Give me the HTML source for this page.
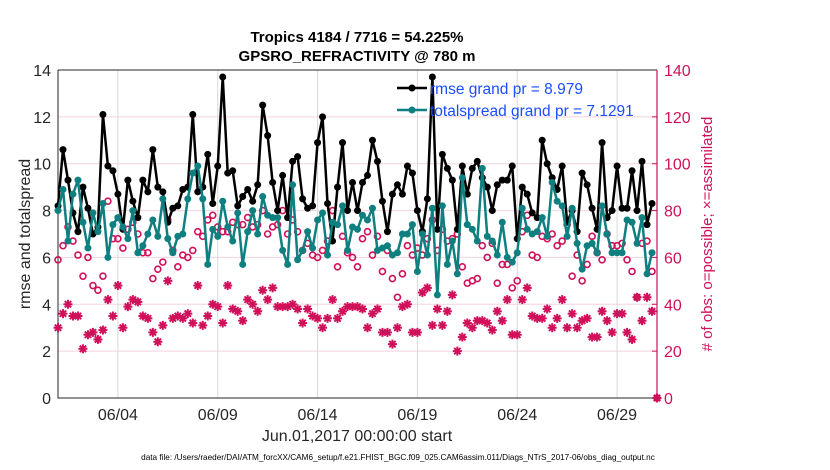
<!DOCTYPE html>
<html><head><meta charset="utf-8"><style>
body{margin:0;background:#fff;}
svg{display:block;font-family:"Liberation Sans",sans-serif;}
</style></head><body>
<svg id="chart" width="830" height="470" viewBox="0 0 830 470" xmlns="http://www.w3.org/2000/svg">
<rect width="830" height="470" fill="#fff"/>
<text x="357" y="42" text-anchor="middle" font-size="15" font-weight="bold" fill="#000">Tropics 4184 / 7716 = 54.225%</text>
<text x="357" y="61" text-anchor="middle" font-size="15" font-weight="bold" fill="#000">GPSRO_REFRACTIVITY @ 780 m</text>
<g id="grid"></g>
<g id="axes"></g>
<g id="marks"></g>
<text transform="translate(30,234) rotate(-90)" text-anchor="middle" font-size="16" fill="#262626">rmse and totalspread</text>
<text transform="translate(712,234) rotate(-90)" text-anchor="middle" font-size="15" fill="#d0105a">#  of obs: o=possible; ×=assimilated</text>
<text x="357" y="441" text-anchor="middle" font-size="16" fill="#262626">Jun.01,2017 00:00:00 start</text>
<text x="398" y="460" text-anchor="middle" font-size="8.2" fill="#000">data file: /Users/raeder/DAI/ATM_forcXX/CAM6_setup/f.e21.FHIST_BGC.f09_025.CAM6assim.011/Diags_NTrS_2017-06/obs_diag_output.nc</text>
<g id="legend">
<line x1="397" y1="88" x2="427" y2="88" stroke="#000" stroke-width="2.5"/><circle cx="412" cy="88" r="3.5" fill="#000"/>
<text x="430" y="94" font-size="15.5" fill="#1a4dff">rmse grand pr = 8.979</text>
<line x1="397" y1="110" x2="427" y2="110" stroke="#0f7f80" stroke-width="2.5"/><circle cx="412" cy="110" r="3.5" fill="#0f7f80"/>
<text x="430" y="116" font-size="15.5" fill="#1a4dff">totalspread grand pr = 7.1291</text>
</g>
</svg>
<script>
const rmse=[8.2,10.6,9.3,7.9,7.1,9.0,8.1,7.0,7.3,12.1,9.9,9.7,8.7,7.2,9.3,8.4,7.7,9.3,8.8,10.6,9.0,8.8,7.5,8.1,8.2,8.9,9.0,12.1,8.8,9.0,
10.4,8.3,9.9,13.7,9.6,9.7,8.2,8.6,8.9,8.4,9.1,12.5,11.2,9.2,8.0,9.5,7.7,10.1,10.3,8.5,8.1,8.2,10.9,12.0,8.3,6.7,9.0,10.9,8.0,9.2,
8.0,9.2,9.5,11.0,10.1,8.4,7.1,8.7,9.1,8.7,9.9,9.6,8.0,7.1,8.5,13.7,7.2,10.4,9.8,9.3,7.2,9.9,8.7,9.8,10.1,9.4,9.0,8.0,9.1,9.3,
9.3,9.9,6.8,9.0,8.7,7.9,7.7,11.0,10.0,9.4,8.9,9.9,7.5,8.0,7.1,9.6,9.1,8.1,7.2,10.9,7.7,8.0,9.9,8.1,8.1,9.7,8.0,10.1,7.4,8.3];
const spread=[8.0,8.9,6.7,8.7,9.3,7.5,6.4,7.9,7.1,8.3,6.0,7.4,7.7,7.3,6.8,8.0,6.2,6.5,7.0,7.6,6.9,8.5,6.8,6.2,6.9,7.0,8.5,9.6,9.9,8.5,
5.7,7.2,6.9,8.4,7.3,6.7,7.9,5.7,7.1,8.0,7.0,8.6,7.8,7.7,7.7,6.3,5.7,9.1,5.9,6.3,7.1,6.4,7.6,7.9,6.1,7.5,7.4,8.2,6.3,7.3,
7.2,7.8,7.6,8.1,6.3,6.4,6.5,6.1,6.2,7.0,7.0,7.4,5.4,7.0,6.1,8.1,4.4,8.2,5.7,6.7,5.3,9.4,7.4,7.2,6.7,9.8,6.9,6.7,6.1,7.5,
6.0,5.8,6.2,8.1,7.2,7.0,7.1,7.7,6.9,9.2,8.4,8.2,6.9,8.1,6.6,5.5,6.5,6.6,6.2,8.2,7.0,6.2,6.2,6.2,7.6,7.5,6.6,7.7,5.3,6.2];
const obsPossible=[59,65,73,67,61,52,60,48,46,52,84,68,68,64,72,75,70,62,62,51,55,58,76,63,56,61,60,63,71,69,
76,78,73,71,71,75,74,74,77,73,74,80,70,73,74,80,70,76,71,63,66,61,60,63,67,80,56,69,62,60,
56,68,71,61,69,54,63,51,43,53,65,61,64,61,68,76,63,72,67,68,70,56,49,50,51,65,60,66,49,57,
57,47,50,71,78,61,60,69,68,70,65,67,74,52,61,50,57,69,62,59,70,65,65,66,59,54,43,66,67,54,0];
const obsAssim=[30,36,40,35,35,21,27,28,25,29,42,35,48,30,39,42,41,35,34,28,24,31,50,34,35,34,36,32,48,31,
35,40,39,32,48,38,37,33,42,40,37,46,42,47,39,39,39,40,38,32,38,35,34,30,34,42,34,37,39,39,
39,38,30,36,38,28,28,23,30,39,40,28,28,45,47,31,38,31,37,44,20,26,32,30,33,33,32,29,37,33,
42,27,27,42,47,35,34,34,38,30,34,42,30,36,30,33,34,26,26,37,33,28,36,36,28,25,43,33,43,37,0];
const yTicks=[0,2,4,6,8,10,12,14];
const y2Ticks=[0,20,40,60,80,100,120,140];
const xTickDays=[3,8,13,18,23,28];
const xTickLabels=["06/04","06/09","06/14","06/19","06/24","06/29"];

const NS="http://www.w3.org/2000/svg";
const L=58,R=657,T=70,B=398;
const xScale=d=>L+(d/30)*(R-L);
const yScale=v=>B-(v/14)*(B-T);
const y2Scale=v=>B-(v/140)*(B-T);
const tOf=i=>i*0.25;
function mk(tag,attrs,parent){const e=document.createElementNS(NS,tag);for(const k in attrs)e.setAttribute(k,attrs[k]);parent.appendChild(e);return e;}
const grid=document.getElementById('grid'),axes=document.getElementById('axes'),marks=document.getElementById('marks');

yTicks.forEach(v=>{
  if(v>0&&v<14){const g=mk('line',{x1:L,x2:R,y1:yScale(v),y2:yScale(v),stroke:'#f3d3de','stroke-width':1},grid);
  
  }
  const t=mk('text',{x:L-7,y:yScale(v)+6,'text-anchor':'end','font-size':16,fill:'#262626'},axes);t.textContent=v;
  
  
});
y2Ticks.forEach(v=>{
  const t=mk('text',{x:R+7,y:y2Scale(v)+6,'font-size':16,fill:'#d0105a'},axes);t.textContent=v;
  
  
  mk('line',{x1:R-5,x2:R,y1:y2Scale(v),y2:y2Scale(v),stroke:'#d0105a','stroke-width':1},axes);
});
xTickDays.forEach((d,i)=>{
  const g=mk('line',{x1:xScale(d),x2:xScale(d),y1:T,y2:B,stroke:'#d8d8d8','stroke-width':1},grid);
  
  
  const t=mk('text',{x:xScale(d),y:420,'text-anchor':'middle','font-size':16,fill:'#262626'},axes);t.textContent=xTickLabels[i];
  
  
});
const box=mk('path',{d:`M${L},${T}H${R}M${L},${T}V${B}H${R}`,fill:'none',stroke:'#262626','stroke-width':1},axes);


const rax=mk('line',{x1:R,x2:R,y1:T,y2:B,stroke:'#d0105a','stroke-width':1.2},axes);



obsAssim.forEach((v,i)=>{
  const cx=xScale(tOf(i)),cy=y2Scale(v);const g=mk('g',{stroke:'#d0105a','stroke-width':2},marks);
  
  
  const r=4.5;
  for(let a=0;a<4;a++){const an=a*Math.PI/4;mk('line',{x1:cx-r*Math.cos(an),y1:cy-r*Math.sin(an),x2:cx+r*Math.cos(an),y2:cy+r*Math.sin(an)},g);}
});
obsPossible.forEach((v,i)=>{
  const c=mk('circle',{cx:xScale(tOf(i)),cy:y2Scale(v),r:3,fill:'none',stroke:'#d0105a','stroke-width':1.6},marks);
  
  
});
function series(vals,color,name){
  const pts=vals.map((v,i)=>xScale(tOf(i))+','+yScale(v)).join(' ');
  const pl=mk('polyline',{points:pts,fill:'none',stroke:color,'stroke-width':2.5,'stroke-linejoin':'round'},marks);
  
  
  vals.forEach((v,i)=>{const c=mk('circle',{cx:xScale(tOf(i)),cy:yScale(v),r:3.5,fill:color},marks);
    
    });
}
series(rmse,'#000','rmse');
series(spread,'#0f7f80','totalspread');
</script>
</body></html>
